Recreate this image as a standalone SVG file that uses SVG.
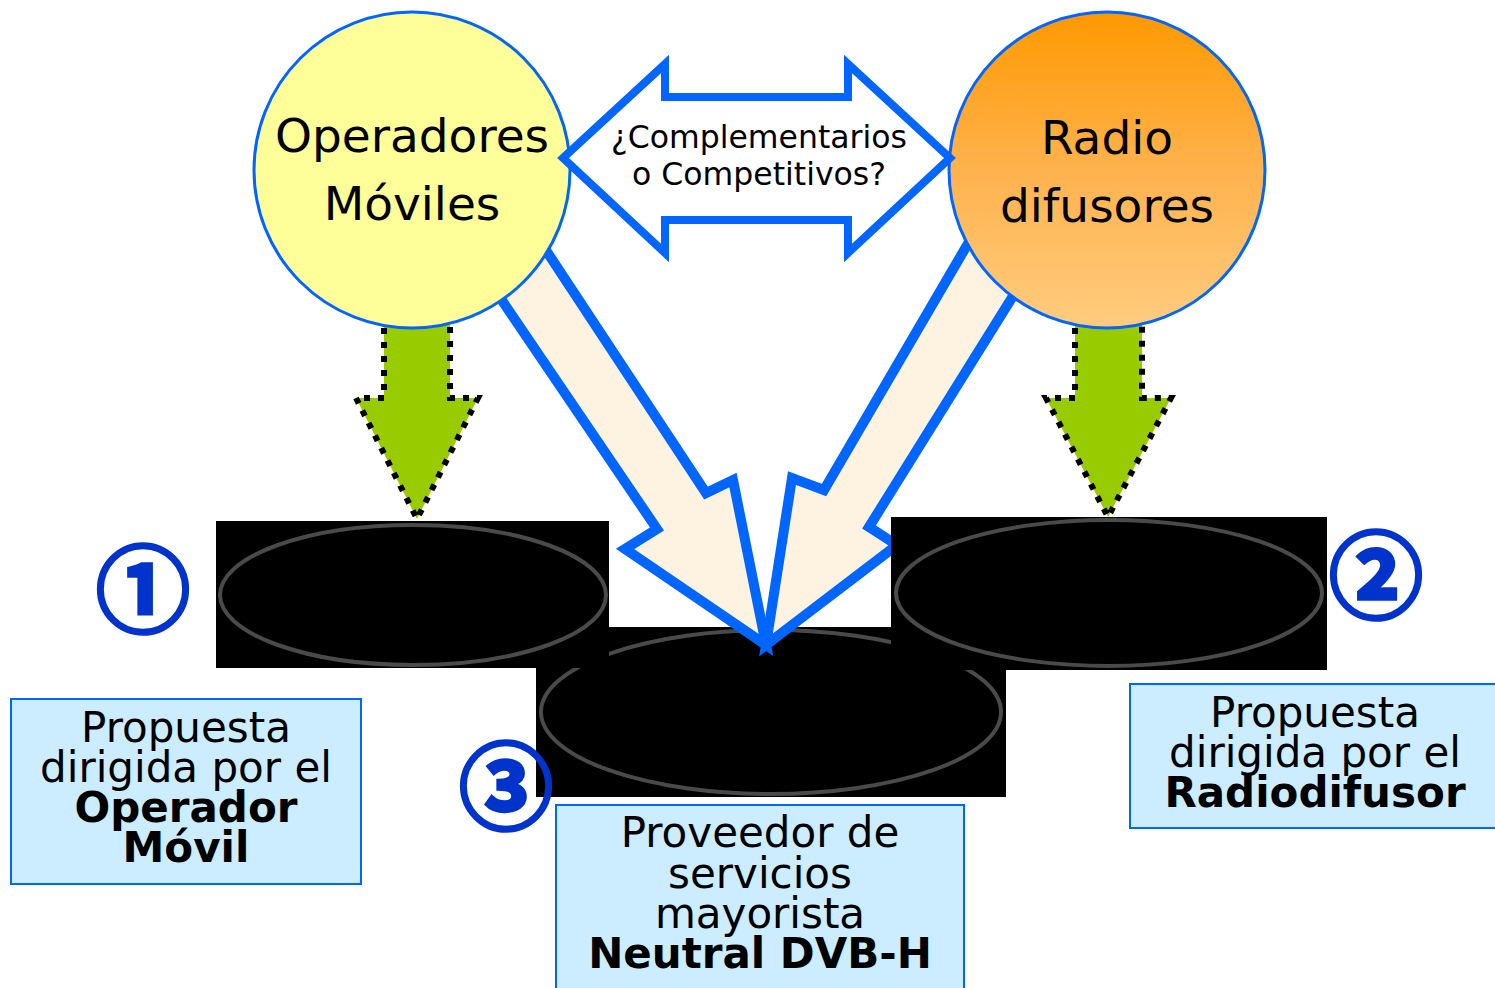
<svg xmlns="http://www.w3.org/2000/svg" width="1495" height="988" viewBox="0 0 1495 988">
<defs>
<linearGradient id="orange" x1="0" y1="0" x2="0" y2="1">
<stop offset="0" stop-color="#FF9900"/>
<stop offset="0.5" stop-color="#FFB24D"/>
<stop offset="1" stop-color="#FFCC7F"/>
</linearGradient>
</defs>
<style>
.pic{fill:#000000}
.ring{fill:none;stroke:#4a4a4a;stroke-width:4}
.big{fill:#FEF3E1;stroke:#0066FF;stroke-width:10;stroke-linejoin:miter}
.green{fill:#99CC00;stroke:#000000;stroke-width:6;stroke-dasharray:6 8}
.circ{stroke:#0066FF;stroke-width:3}
.dbl{fill:#FFFFFF;stroke:#0066FF;stroke-width:8;stroke-linejoin:miter}
.box{fill:#CCECFF;stroke:#0066FF;stroke-width:2}
.t{font-family:"DejaVu Sans",Verdana,sans-serif;fill:#000000;text-anchor:middle}
.num{font-family:"Noto Sans CJK JP",sans-serif;font-weight:bold;fill:#0033CC;stroke:#0033CC;stroke-width:3.5;text-anchor:middle;font-size:94px}
</style>
<g id="img-center"><rect class="pic" x="536" y="627" width="470" height="170"/><ellipse class="ring" cx="771" cy="712" rx="230" ry="82"/></g>
<g id="connectors">
<polygon id="arrow-left-big" class="big" points="482,271 657,529 625,549 766,645 733,480 706,493 526,220"/>
<polygon id="arrow-right-big" class="big" points="987,211 824,490 792,478 766,645 897,545 869,527 1033,264"/>
</g>
<g id="img-left"><rect class="pic" x="216" y="521" width="393" height="147"/><ellipse class="ring" cx="413" cy="595" rx="193" ry="70"/></g>
<g id="img-right"><rect class="pic" x="891" y="517" width="436" height="153"/><ellipse class="ring" cx="1109" cy="593" rx="213" ry="73"/></g>
<g id="connectors-green">
<polygon class="green" points="384,300 384,398 356,398 417,519 478,398 450,398 450,300"/>
<polygon class="green" points="1075,300 1075,398 1046,398 1108,517 1171,398 1142,398 1142,300"/>
</g>
<g id="node-operadores"><circle class="circ" cx="412" cy="170" r="158" fill="#FFFF99"/>
<text class="t" x="412" y="152" font-size="47">Operadores</text>
<text class="t" x="412" y="220" font-size="47">Móviles</text></g>
<g id="node-radio"><circle class="circ" cx="1107" cy="170" r="158" fill="url(#orange)"/>
<text class="t" x="1107" y="154" font-size="47">Radio</text>
<text class="t" x="1107" y="222" font-size="47">difusores</text></g>
<g id="node-question"><polygon class="dbl" points="563,158 665,64 665,97 848,97 848,64 950,158 848,253 848,220 665,220 665,253"/>
<text class="t" x="759" y="148" font-size="31.5">¿Complementarios</text>
<text class="t" x="759" y="185" font-size="31.5">o Competitivos?</text></g>
<g id="box-left"><rect class="box" x="11" y="699" width="350" height="185"/>
<text class="t" x="186" y="742" font-size="42">Propuesta</text>
<text class="t" x="186" y="782" font-size="42">dirigida por el</text>
<text class="t" x="186" y="822" font-size="42" font-weight="bold">Operador</text>
<text class="t" x="186" y="862" font-size="42" font-weight="bold">Móvil</text></g>
<g id="box-center"><rect class="box" x="556" y="805" width="408" height="190"/>
<text class="t" x="760" y="847" font-size="42">Proveedor de</text>
<text class="t" x="760" y="888" font-size="42">servicios</text>
<text class="t" x="760" y="928" font-size="42">mayorista</text>
<text class="t" x="760" y="968" font-size="42" font-weight="bold">Neutral DVB-H</text></g>
<g id="box-right"><rect class="box" x="1130" y="684" width="370" height="144"/>
<text class="t" x="1315" y="727" font-size="42">Propuesta</text>
<text class="t" x="1315" y="767" font-size="42">dirigida por el</text>
<text class="t" x="1315" y="807" font-size="42" font-weight="bold">Radiodifusor</text></g>
<g id="num-1"><text class="num" x="143" y="625">①</text></g>
<g id="num-2"><text class="num" x="1376" y="611">②</text></g>
<g id="num-3"><text class="num" x="506" y="822">③</text></g>
</svg>
